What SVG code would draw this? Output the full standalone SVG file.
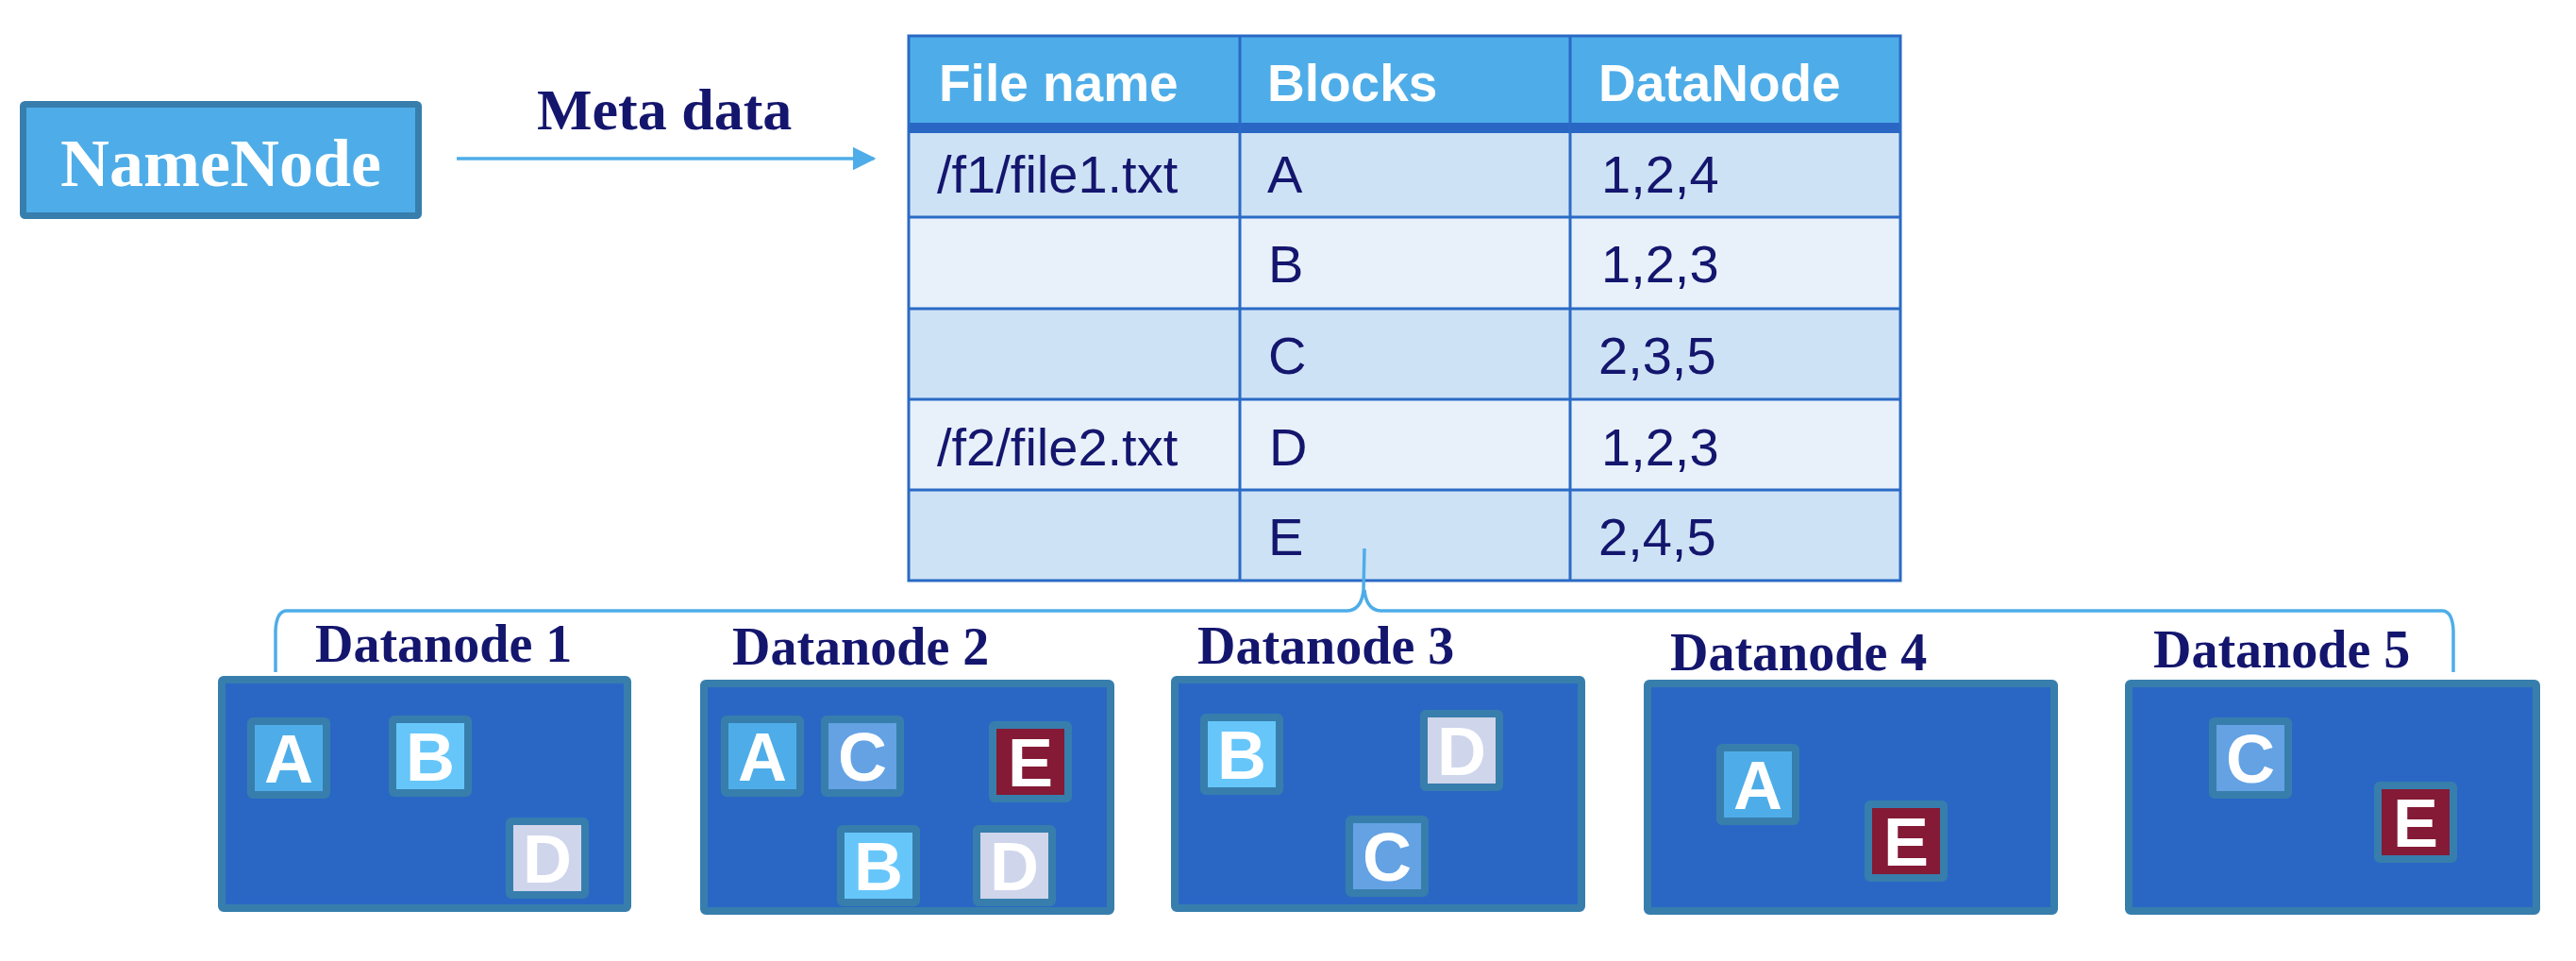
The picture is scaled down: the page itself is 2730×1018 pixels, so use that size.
<svg xmlns="http://www.w3.org/2000/svg" width="2730" height="1018" viewBox="0 0 2730 1018">
<defs>
<style>
.nn{fill:#4EADE8;stroke:#377EAD;stroke-width:7}
.nntxt{font-family:"Liberation Serif","Times New Roman",serif;font-weight:bold;font-size:72px;fill:#fff}
.meta{font-family:"Liberation Serif","Times New Roman",serif;font-weight:bold;font-size:62px;fill:#14166E}
.hdr{font-family:"Liberation Sans",Arial,sans-serif;font-weight:bold;font-size:55px;fill:#fff}
.cell{font-family:"Liberation Sans",Arial,sans-serif;font-size:56px;fill:#14166E}
.rowD{fill:#CEE2F5}
.rowL{fill:#E8F1FA}
.grid{stroke:#2A6AC5;stroke-width:3;fill:none}
.dn{fill:#2A67C4;stroke:#377EAD;stroke-width:8}
.dnlbl{font-family:"Liberation Serif","Times New Roman",serif;font-weight:bold;font-size:56px;fill:#14166E}
.blk{stroke:#377EAD;stroke-width:8}
.blkA{fill:#4EADE8}
.blkB{fill:#66C6FA}
.blkC{fill:#64A2E4}
.blkD{fill:#CFD5EB}
.blkE{fill:#841A36}
.blktxt{font-family:"Liberation Sans",Arial,sans-serif;font-weight:bold;font-size:72px;fill:#fff;text-anchor:middle}
.conn{stroke:#4EADE8;stroke-width:3.5;fill:none}
</style>
<marker id="arr" viewBox="0 0 10 10" refX="9" refY="5" markerWidth="7" markerHeight="7" markerUnits="strokeWidth" orient="auto">
<path d="M0,0 L10,5 L0,10 z" fill="#4EADE8"/>
</marker>
</defs>

<g id="namenode">
<rect class="nn" x="24.5" y="110.5" width="419" height="118" rx="2"/>
<text class="nntxt" x="234" y="197" text-anchor="middle">NameNode</text>
</g>

<g id="metadata-table">
<rect x="963" y="37" width="1051" height="99" fill="#4EADE8"/>
<rect class="rowD" x="963" y="141" width="1051" height="89"/>
<rect class="rowL" x="963" y="230" width="1051" height="97"/>
<rect class="rowD" x="963" y="327" width="1051" height="96"/>
<rect class="rowL" x="963" y="423" width="1051" height="96"/>
<rect class="rowD" x="963" y="519" width="1051" height="97"/>
<rect x="963" y="130" width="1051" height="11" fill="#2A67C4"/>
<rect class="grid" x="963" y="38" width="1051" height="577"/>
<line class="grid" x1="963" y1="230" x2="2014" y2="230"/>
<line class="grid" x1="963" y1="327" x2="2014" y2="327"/>
<line class="grid" x1="963" y1="423" x2="2014" y2="423"/>
<line class="grid" x1="963" y1="519" x2="2014" y2="519"/>
<line class="grid" x1="1314" y1="38" x2="1314" y2="615"/>
<line class="grid" x1="1664" y1="38" x2="1664" y2="615"/>
<text class="hdr" x="995" y="107">File name</text>
<text class="hdr" x="1343" y="107">Blocks</text>
<text class="hdr" x="1694" y="107">DataNode</text>
<text class="cell" x="993" y="204">/f1/file1.txt</text>
<text class="cell" x="1343" y="204">A</text>
<text class="cell" x="1697" y="204">1,2,4</text>
<text class="cell" x="1344" y="299">B</text>
<text class="cell" x="1697" y="299">1,2,3</text>
<text class="cell" x="1344" y="396">C</text>
<text class="cell" x="1694" y="396">2,3,5</text>
<text class="cell" x="993" y="493">/f2/file2.txt</text>
<text class="cell" x="1345" y="493">D</text>
<text class="cell" x="1697" y="493">1,2,3</text>
<text class="cell" x="1344" y="588">E</text>
<text class="cell" x="1694" y="588">2,4,5</text>
</g>

<g id="connectors">
<line class="conn" x1="484" y1="168" x2="926" y2="168" marker-end="url(#arr)"/>
<text class="meta" x="569" y="137">Meta data</text>
<path class="conn" d="M292 712 L292 668 Q293 647 304 647 L1428 647 Q1443 646 1445 625 L1446 581 M1446 625 Q1448 646 1463 647 L2588 647 Q2599 647 2600 668 L2600 712"/>
</g>

<g id="datanode1">
<rect class="dn" x="235" y="720" width="430" height="242" rx="2"/>
<text class="dnlbl" x="334" y="701">Datanode 1</text>
<rect class="blk blkA" x="266" y="764" width="80" height="78" rx="2"/><text class="blktxt" x="306" y="829">A</text>
<rect class="blk blkB" x="416" y="762" width="80" height="78" rx="2"/><text class="blktxt" x="456" y="827">B</text>
<rect class="blk blkD" x="540" y="870" width="80" height="78" rx="2"/><text class="blktxt" x="580" y="935">D</text>
</g>

<g id="datanode2">
<rect class="dn" x="746" y="724" width="431" height="241" rx="2"/>
<text class="dnlbl" x="776" y="704">Datanode 2</text>
<rect class="blk blkA" x="768" y="762" width="80" height="78" rx="2"/><text class="blktxt" x="808" y="827">A</text>
<rect class="blk blkC" x="874" y="762" width="80" height="78" rx="2"/><text class="blktxt" x="914" y="827">C</text>
<rect class="blk blkE" x="1052" y="768" width="80" height="78" rx="2"/><text class="blktxt" x="1092" y="833">E</text>
<rect class="blk blkB" x="891" y="878" width="80" height="78" rx="2"/><text class="blktxt" x="931" y="943">B</text>
<rect class="blk blkD" x="1035" y="878" width="80" height="78" rx="2"/><text class="blktxt" x="1075" y="943">D</text>
</g>

<g id="datanode3">
<rect class="dn" x="1245" y="720" width="431" height="242" rx="2"/>
<text class="dnlbl" x="1269" y="703">Datanode 3</text>
<rect class="blk blkB" x="1276" y="760" width="80" height="78" rx="2"/><text class="blktxt" x="1316" y="825">B</text>
<rect class="blk blkD" x="1509" y="756" width="80" height="78" rx="2"/><text class="blktxt" x="1549" y="821">D</text>
<rect class="blk blkC" x="1430" y="868" width="80" height="78" rx="2"/><text class="blktxt" x="1470" y="933">C</text>
</g>

<g id="datanode4">
<rect class="dn" x="1746" y="724" width="431" height="241" rx="2"/>
<text class="dnlbl" x="1770" y="710">Datanode 4</text>
<rect class="blk blkA" x="1823" y="792" width="80" height="78" rx="2"/><text class="blktxt" x="1863" y="857">A</text>
<rect class="blk blkE" x="1980" y="852" width="80" height="78" rx="2"/><text class="blktxt" x="2020" y="917">E</text>
</g>

<g id="datanode5">
<rect class="dn" x="2256" y="724" width="432" height="241" rx="2"/>
<text class="dnlbl" x="2282" y="707">Datanode 5</text>
<rect class="blk blkC" x="2345" y="764" width="80" height="78" rx="2"/><text class="blktxt" x="2385" y="829">C</text>
<rect class="blk blkE" x="2520" y="832" width="80" height="78" rx="2"/><text class="blktxt" x="2560" y="897">E</text>
</g>
</svg>
